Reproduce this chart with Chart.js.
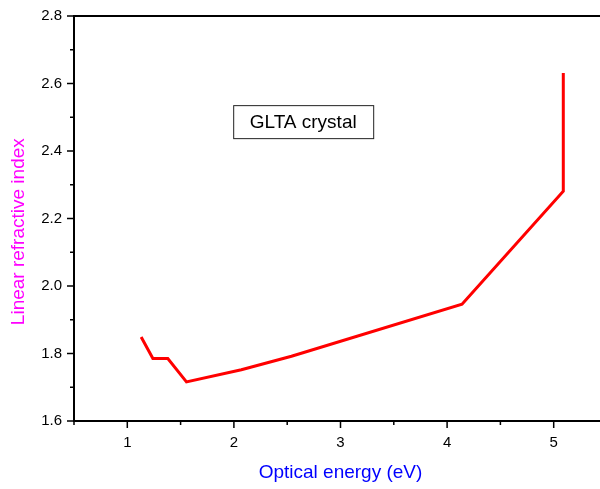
<!DOCTYPE html>
<html>
<head>
<meta charset="utf-8">
<script src="https://cdn.jsdelivr.net/npm/chart.js@4/dist/chart.umd.min.js"></script>
<style>
  html, body { margin: 0; padding: 0; background: #fff; overflow: hidden; width: 600px; height: 489px; }
  canvas { display: block; }
</style>
</head>
<body>
<canvas id="chart" width="607" height="489"></canvas>
<script>
// data
const energy = [1.13, 1.24, 1.38, 1.555, 2.07, 2.54, 4.14, 5.09, 5.09];
const refIndex = [1.849, 1.785, 1.785, 1.716, 1.752, 1.792, 1.946, 2.281, 2.631];
const xLabels = [1, 2, 3, 4, 5];
const yLabels = [1.6, 1.8, 2.0, 2.2, 2.4, 2.6, 2.8];
const seriesName = 'GLTA crystal';

const FONT = "'Liberation Sans', Arial, sans-serif";

// minor + major tick marks, top frame line and the text box
const decorations = {
    id: 'decorations',
    afterDraw(chart) {
        const ctx = chart.ctx;
        const area = chart.chartArea;
        const xs = chart.scales.x, ys = chart.scales.y;
        ctx.save();
        ctx.strokeStyle = '#000';
        ctx.lineWidth = 2;
        ctx.beginPath();
        ctx.moveTo(area.left, area.top);
        ctx.lineTo(area.right, area.top);
        ctx.stroke();
        ctx.lineWidth = 1.5;
        ctx.beginPath();
        xs.ticks.forEach(t => {
            const px = xs.getPixelForValue(t.value);
            const major = xLabels.some(v => Math.abs(v - t.value) < 1e-6);
            ctx.moveTo(px, area.bottom);
            ctx.lineTo(px, area.bottom + (major ? 7 : 4));
        });
        ys.ticks.forEach(t => {
            const py = ys.getPixelForValue(t.value);
            const major = yLabels.some(v => Math.abs(v - t.value) < 1e-6);
            ctx.moveTo(area.left, py);
            ctx.lineTo(area.left - (major ? 7 : 4), py);
        });
        ctx.stroke();

        // label box
        const cx = xs.getPixelForValue(2.65);
        const cy = ys.getPixelForValue(2.487);
        ctx.lineWidth = 1;
        ctx.strokeStyle = '#222';
        ctx.strokeRect(cx - 70 + 0.5, cy - 16.5 + 0.5, 140, 33);
        ctx.fillStyle = '#000';
        ctx.font = '19px ' + FONT;
        ctx.textAlign = 'center';
        ctx.textBaseline = 'middle';
        ctx.fillText(seriesName, cx, cy + 1);
        ctx.restore();
    }
};

const chart = new Chart(document.getElementById('chart'), {
    type: 'line',
    data: {
        datasets: [{
            label: seriesName,
            data: energy.map((e, i) => ({ x: e, y: refIndex[i] })),
            borderColor: '#ff0000',
            borderWidth: 3,
            pointRadius: 0,
            tension: 0,
            fill: false
        }]
    },
    options: {
        responsive: false,
        animation: false,
        layout: { autoPadding: false, padding: { top: 16, left: 0, right: 0, bottom: 0 } },
        plugins: {
            legend: { display: false },
            tooltip: { enabled: false }
        },
        scales: {
            x: {
                type: 'linear',
                min: 0.5,
                max: 5.5,
                grid: { display: false, drawTicks: false },
                border: { display: true, color: '#000', width: 2 },
                ticks: {
                    stepSize: 0.5,
                    autoSkip: false,
                    maxRotation: 0,
                    padding: 13,
                    color: '#000',
                    font: { family: FONT, size: 15 },
                    callback: v => xLabels.some(l => Math.abs(l - v) < 1e-6) ? String(Math.round(v)) : ''
                },
                title: {
                    display: true,
                    text: 'Optical energy (eV)',
                    color: '#0000ff',
                    font: { family: FONT, size: 19 },
                    padding: { top: 0, bottom: 5 }
                },
                afterFit: scale => {
                    scale.height = 68;
                    scale.paddingLeft = 0;
                    scale.paddingRight = 0;
                }
            },
            y: {
                min: 1.6,
                max: 2.8,
                grid: { display: false, drawTicks: false },
                border: { display: true, color: '#000', width: 2 },
                ticks: {
                    stepSize: 0.1,
                    autoSkip: false,
                    padding: 12,
                    color: '#000',
                    font: { family: FONT, size: 15 },
                    callback: v => yLabels.some(l => Math.abs(l - v) < 1e-6) ? v.toFixed(1) : ''
                },
                title: {
                    display: true,
                    text: 'Linear refractive index     ',
                    color: '#ff00ff',
                    font: { family: FONT, size: 19 },
                    padding: { top: 7, bottom: 0 }
                },
                afterFit: scale => {
                    scale.width = 74;
                    scale.paddingTop = 0;
                    scale.paddingBottom = 0;
                }
            }
        }
    },
    plugins: [decorations]
});
</script>
</body>
</html>
